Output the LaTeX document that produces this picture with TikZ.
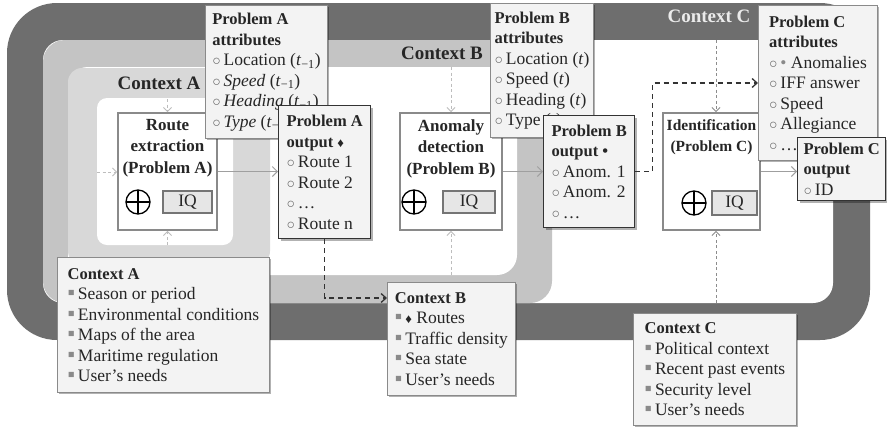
\documentclass[tikz,border=0pt]{standalone}
\usepackage{fontspec}
\setmainfont{Liberation Serif}
\usetikzlibrary{arrows.meta,shadows,calc}
\definecolor{ctxC}{HTML}{6E6E6E}
\definecolor{ctxB}{HTML}{C4C4C4}
\definecolor{ctxA}{HTML}{D8D8D8}
\definecolor{boxfill}{HTML}{F3F3F3}
\definecolor{iqfill}{HTML}{E6E6E6}
\definecolor{boxline}{HTML}{8A8A8A}
\definecolor{darkline}{HTML}{333333}
\definecolor{lightarrow}{HTML}{BDBDBD}
\definecolor{midarrow}{HTML}{8C8C8C}
\definecolor{txt}{HTML}{262626}
\newcommand{\oc}{{\fontsize{14}{14}\selectfont\textcolor{boxline!70!black}{○}}\,}
\newcommand{\sqb}{{\fontsize{21}{16}\selectfont\textcolor{boxline}{▪}}\,}
\newcommand{\dia}{{\fontsize{13}{13}\selectfont ♦}}
\newcommand{\tm}{(\textit{t}\textsubscript{−1})}
\newcommand{\ttl}[1]{{\bfseries\fontsize{16.5}{20.5}\selectfont #1}}
\begin{document}
\begin{tikzpicture}[x=1pt,y=-1pt,
  base/.style={font=\fontsize{17.5}{20.5}\selectfont, text=txt},
  sbox/.style={base, draw=boxline, line width=0.9pt, fill=boxfill, align=left, anchor=north west, inner sep=0pt,
    drop shadow={shadow xshift=2pt, shadow yshift=-2pt, fill=black, opacity=0.3}},
  obox/.style={sbox, draw=darkline, line width=1.4pt},
  proc/.style={draw=boxline, line width=1.8pt, fill=white, inner sep=0pt},
  ptext/.style={font=\bfseries\fontsize{17}{21.5}\selectfont, text=txt, align=center, anchor=north, inner sep=0pt},
  iq/.style={base, draw=boxline!85!black, line width=2pt, fill=iqfill, inner sep=0pt},
  oplus/.style={circle, draw=black, line width=1.3pt, minimum size=24pt, inner sep=0pt,
    path picture={\draw[line width=1.3pt] (path picture bounding box.north) -- (path picture bounding box.south)
      (path picture bounding box.west) -- (path picture bounding box.east);}},
  lbl/.style={font=\bfseries\fontsize{19}{22}\selectfont, text=txt, inner sep=0pt},
  lightarr/.style={draw=lightarrow, line width=0.9pt, dash pattern=on 3pt off 2.5pt, -{Straight Barb[length=4pt,width=8pt]}},
  midarr/.style={lightarr, draw=midarrow},
  solidarr/.style={draw=gray!75, line width=1pt, -{Straight Barb[length=5pt,width=10pt]}},
  blkarr/.style={draw=darkline, line width=1.3pt, dash pattern=on 5pt off 4pt, -{Straight Barb[length=5pt,width=9pt]}},
]
\useasboundingbox (0,0) rectangle (887,432);
\fill[white] (0,0) rectangle (887,432);
% context regions
\fill[ctxC, rounded corners=50] (7,3) rectangle (870,340);
\fill[white, rounded corners=20] (43,40) rectangle (833,303);
\fill[ctxB, rounded corners=22] (43,40) rectangle (552,303);
\fill[white, rounded corners=20] (68,67) rectangle (517,275);
\fill[ctxA, rounded corners=14] (68,68) rectangle (270,265);
\fill[white, rounded corners=10] (97,98) rectangle (233,245);
% labels
\node[lbl] (labA) at (159,83) {Context A};
\node[lbl] (labB) at (442,53) {Context B};
\node[lbl, text=black!8] (labC) at (709,16) {Context C};
% process boxes
\node[proc, minimum width=99, minimum height=117] (ra) at (167.5,171.5) {};
\node[ptext] (rat) at (167.5,119) {Route\\extraction\\(Problem A)};
\node[oplus] (rap) at (138,202) {};
\node[iq, minimum width=49, minimum height=22] (raq) at (187.5,202) {IQ};
\node[proc, minimum width=102, minimum height=117] (ad) at (451,171.5) {};
\node[ptext] (adt) at (451,119) {Anomaly\\detection\\(Problem B)};
\node[oplus] (adp) at (414,202) {};
\node[iq, minimum width=52, minimum height=22] (adq) at (469,202) {IQ};
\node[proc, minimum width=97, minimum height=117] (id) at (711.5,171.5) {};
\node[ptext, font=\bfseries\fontsize{15.5}{21.5}\selectfont] (idt) at (711.5,119) {Identification\\(Problem C)};
\node[oplus] (idp) at (694,203) {};
\node[iq, minimum width=45, minimum height=24] (idq) at (734.5,203) {IQ};
% context boxes
\node[sbox, minimum width=212, minimum height=135] (cxa) at (57,257)
  {\ttl{Context A}\\\sqb Season or period\\\sqb Environmental conditions\\\sqb Maps of the area\\\sqb Maritime regulation\\\sqb User’s needs};
\node[sbox, minimum width=128, minimum height=113] (cxb) at (387,282)
  {\ttl{Context B}\\\sqb\dia\ Routes\\\sqb Traffic density\\\sqb Sea state\\\sqb User’s needs};
\node[sbox, minimum width=163, minimum height=112] (cxc) at (633,313)
  {\ttl{Context C}\\\sqb Political context\\\sqb Recent past events\\\sqb Security level\\\sqb User’s needs};
% attribute boxes
\node[sbox, minimum width=122, minimum height=133] (paa) at (205,5)
  {\ttl{Problem A}\\\ttl{attributes}\\\oc Location \tm\\\oc \textit{Speed} \tm\\\oc \textit{Heading} \tm\\\oc \textit{Type} \tm};
\node[sbox, minimum width=103, minimum height=134] (pba) at (490,3)
  {\ttl{Problem B}\\\ttl{attributes}\\\oc Location (\textit{t})\\\oc Speed (\textit{t})\\\oc Heading (\textit{t})\\\oc Type (\textit{t})};
\node[sbox, minimum width=119, minimum height=155] (pca) at (758,5)
  {\ttl{Problem C}\\\ttl{attributes}\\\oc \textcolor{boxline}{•} Anomalies\\\oc IFF answer\\\oc Speed\\\oc Allegiance\\\oc …};
% output boxes
\node[obox, minimum width=92, minimum height=133] (pao) at (278,105)
  {\ttl{Problem A}\\\ttl{output \dia}\\\oc Route 1\\\oc Route 2\\\oc …\\\oc Route n};
\node[obox, minimum width=91, minimum height=112] (pbo) at (543,115)
  {\ttl{Problem B}\\\ttl{output •}\\\oc Anom. 1\\\oc Anom. 2\\\oc …};
\node[obox, minimum width=88, minimum height=63] (pco) at (797,137)
  {\ttl{Problem C}\\\ttl{output}\\\oc ID};
% context influence arrows
\coordinate (inA) at (97,172);
\coordinate (topA) at (167.5,99);
\coordinate (botA) at (167.5,245);
\coordinate (topB) at (451,67);
\coordinate (botB) at (451,275);
\coordinate (topC) at (716,40);
\coordinate (botC) at (716,303);
\draw[lightarr] (inA) -- (inA -| ra.west);
\draw[lightarr] (topA) -- (ra.north);
\draw[lightarr] (botA) -- (ra.south);
\draw[lightarr] (topB) -- (ad.north);
\draw[lightarr] (botB) -- (ad.south);
\draw[midarr] (topC) -- (topC |- id.north);
\draw[midarr] (botC) -- (botC |- id.south);
% process to output
\draw[solidarr] (ra.east) -- (ra.east -| pao.west);
\draw[solidarr] (ad.east) -- (ad.east -| pbo.west);
\draw[solidarr] (id.east) -- (id.east -| pco.west);
% outputs feeding next context / attributes
\coordinate (c83) at (0,83);
\draw[blkarr] (pao.south) |- ($(cxb.north west)+(0,16)$);
\draw[blkarr] (pbo.east) -- ++(17,0) |- (pca.west |- c83);
\end{tikzpicture}
\end{document}
